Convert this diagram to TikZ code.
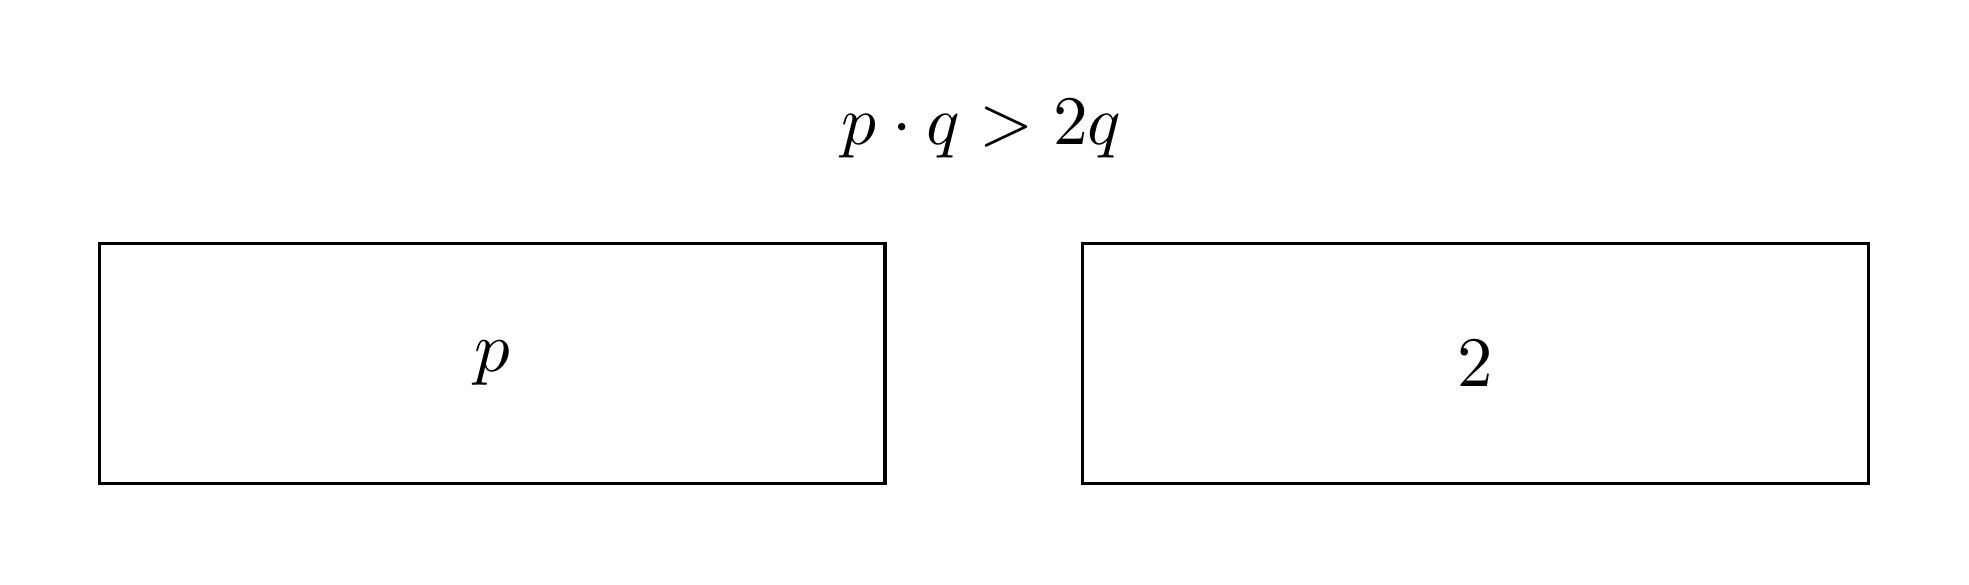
\documentclass[tikz,border=0pt]{standalone}
\usetikzlibrary{positioning}

\begin{document}
\begin{tikzpicture}[font=\normalsize,
  numbox/.style={draw,line width=0.45pt,minimum width=3.89cm,minimum height=1.19cm,inner sep=0pt}]
 \useasboundingbox (0,0) rectangle (9.75,2.896);
 % ---- the two factors ----
 \node[numbox] (pbox) at (2.437,1.096) {$p$};
 \node[numbox] (twobox) at (7.306,1.096) {$2$};
 % ---- comparison above ----
 \node[scale=0.98] (formula) at (4.86,2.26) {$p\cdot q > 2q$};
\end{tikzpicture}
\end{document}
